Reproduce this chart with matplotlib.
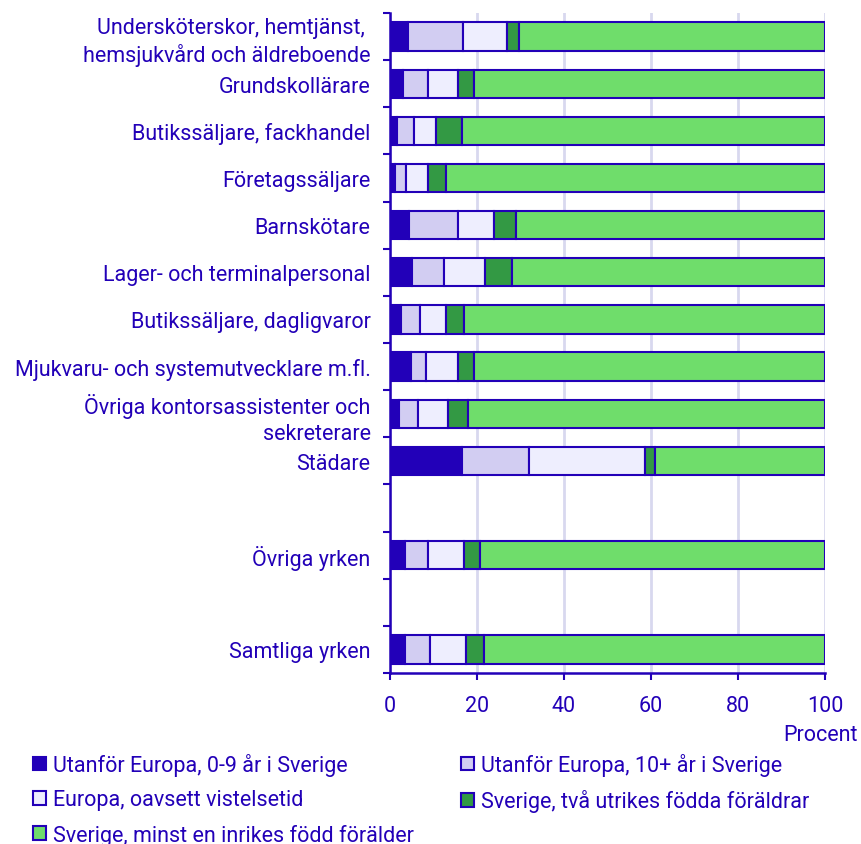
import numpy as np
import matplotlib
matplotlib.use("Agg")
import matplotlib.pyplot as plt
from matplotlib.patches import Rectangle

plt.rcParams['font.family'] = ['Roboto', 'DejaVu Sans']

occupations = [
    "Undersköterskor, hemtjänst, \nhemsjukvård och äldreboende",
    "Grundskollärare",
    "Butikssäljare, fackhandel",
    "Företagssäljare",
    "Barnskötare",
    "Lager- och terminalpersonal",
    "Butikssäljare, dagligvaror",
    "Mjukvaru- och systemutvecklare m.fl.",
    "Övriga kontorsassistenter och\nsekreterare",
    "Städare",
    "Övriga yrken",
    "Samtliga yrken",
]
series_names = [
    "Utanför Europa, 0-9 år i Sverige",
    "Utanför Europa, 10+ år i Sverige",
    "Europa, oavsett vistelsetid",
    "Sverige, två utrikes födda föräldrar",
    "Sverige, minst en inrikes född förälder",
]
utanfor_0_9 = [4.2, 2.9, 1.5, 1.1, 4.3, 5.1, 2.5, 4.8, 2.0, 16.6, 3.4, 3.4]
utanfor_10 = [12.6, 5.8, 4.0, 2.6, 11.3, 7.2, 4.3, 3.4, 4.4, 15.4, 5.4, 5.8]
europa = [10.2, 6.9, 5.0, 5.0, 8.2, 9.6, 6.0, 7.4, 6.9, 26.7, 8.1, 8.3]
sverige_utr = [2.7, 3.6, 6.0, 4.2, 5.1, 6.1, 4.1, 3.7, 4.6, 2.3, 3.8, 4.2]
sverige_inr = [70.3, 80.8, 83.5, 87.1, 71.1, 72.0, 83.1, 80.7, 82.1, 39.0, 79.3, 78.3]
xticks = [0, 20, 40, 60, 80, 100]

blue = "#2200b8"
colors = [blue, "#d2cdf2", "#eeeefe", "#339944", "#6fdd6b"]
grid_c = "#d8d8ef"
fs = 15.5

# empty slots before "Övriga yrken" and "Samtliga yrken"
ypos = np.array(list(range(10)) + [11, 13])

fig = plt.figure(figsize=(8.61, 8.45), dpi=100)
ax = fig.add_axes([390/861, 1-674/845, 435/861, 660/845])

left = np.zeros(len(occupations))
for vals, col in zip([utanfor_0_9, utanfor_10, europa, sverige_utr, sverige_inr], colors):
    ax.barh(ypos, vals, left=left, height=0.6, color=col, edgecolor=blue,
            linewidth=1.5, zorder=3)
    left += np.array(vals)

ax.set_xlim(0, 100)
ax.set_ylim(13.5, -0.5)
ax.set_xticks(xticks)
ax.set_xticklabels([str(t) for t in xticks])
ax.set_yticks(ypos)
ax.set_yticklabels(occupations, linespacing=1.3)
ax.set_yticks(np.arange(-0.5, 14, 1), minor=True)
ax.tick_params(axis='y', which='major', length=0, pad=14, labelsize=fs, labelcolor=blue)
ax.tick_params(axis='y', which='minor', length=5, width=1.5, color=blue)
ax.tick_params(axis='x', length=5, width=1.5, color=blue, pad=11, labelsize=fs, labelcolor=blue)
ax.grid(axis='x', color=grid_c, linewidth=2, zorder=0)
for s in ['top', 'right']:
    ax.spines[s].set_visible(False)
for s in ['left', 'bottom']:
    ax.spines[s].set_color(blue)
    ax.spines[s].set_linewidth(1.8)

fig.text(858/861, 1-725/845, "Procent", ha='right', va='top', fontsize=fs, color=blue)

handles = [Rectangle((0, 0), 1, 1, facecolor=c, edgecolor=blue, linewidth=1.5) for c in colors]
order = [0, 2, 4, 1, 3]
leg = fig.legend([handles[i] for i in order], [series_names[i] for i in order],
                 ncol=2, loc='upper left', bbox_to_anchor=(33/861, 1-754/845),
                 frameon=False, fontsize=fs, handlelength=0.6, handleheight=0.6,
                 handletextpad=0.33, labelspacing=0.62, columnspacing=2.2,
                 borderaxespad=0, borderpad=0)
for t in leg.get_texts():
    t.set_color(blue)

fig.savefig("out.png", dpi=100)
